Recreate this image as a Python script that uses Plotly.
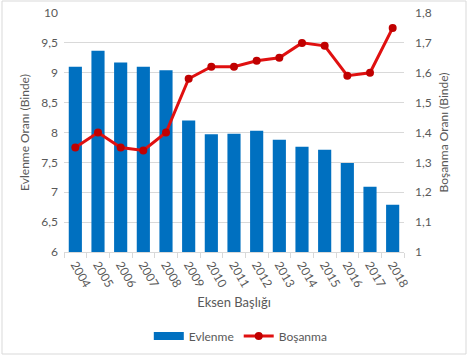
import plotly.graph_objects as go

years = ["2004", "2005", "2006", "2007", "2008", "2009", "2010", "2011",
         "2012", "2013", "2014", "2015", "2016", "2017", "2018"]
evlenme = [9.10, 9.37, 9.17, 9.10, 9.04, 8.20, 7.97, 7.98, 8.03, 7.88, 7.76, 7.71, 7.49, 7.09, 6.79]
bosanma = [1.35, 1.40, 1.35, 1.34, 1.40, 1.58, 1.62, 1.62, 1.64, 1.65, 1.70, 1.69, 1.59, 1.60, 1.75]

left_ticks = [6, 6.5, 7, 7.5, 8, 8.5, 9, 9.5, 10]
left_labels = ["6", "6,5", "7", "7,5", "8", "8,5", "9", "9,5", "10"]
right_ticks = [1, 1.1, 1.2, 1.3, 1.4, 1.5, 1.6, 1.7, 1.8]
right_labels = ["1", "1,1", "1,2", "1,3", "1,4", "1,5", "1,6", "1,7", "1,8"]

font = "Lato, Open Sans, sans-serif"
gray = "#595959"
blue = "#0070C0"

fig = go.Figure()
fig.add_trace(go.Bar(x=years, y=evlenme, name="Evlenme", marker_color=blue,
                     marker_line_width=0, showlegend=False))
fig.add_trace(go.Scatter(x=[None], y=[None], name="Evlenme", mode="lines",
                         line=dict(color=blue, width=8), showlegend=True))
fig.add_trace(go.Scatter(x=years, y=bosanma, name="Boşanma", yaxis="y2",
                         mode="lines+markers",
                         line=dict(color="#E01010", width=3),
                         marker=dict(color="#C00000", size=8)))

W, H, L, R, T, B = 468, 356, 64, 64, 13, 104
pw, ph = W - L - R, H - T - B
shapes = [dict(type="rect", xref="paper", yref="paper",
               x0=-(L - 2) / pw, x1=1 + (R - 2) / pw, y0=-(B - 2) / ph, y1=1 + (T - 1) / ph,
               line=dict(color="#D9D9D9", width=1), fillcolor="rgba(0,0,0,0)", layer="below")]

fig.update_layout(
    width=W, height=H,
    margin=dict(l=L, r=R, t=T, b=B, autoexpand=False),
    paper_bgcolor="white", plot_bgcolor="white",
    font=dict(family=font, size=12, color=gray),
    bargap=0.42,
    showlegend=True,
    legend=dict(orientation="h", x=0.52, xanchor="center", y=-(336 - (H - B)) / ph,
                yanchor="middle", itemwidth=30, font=dict(size=12, color=gray)),
    xaxis=dict(type="category", range=[-0.5, len(years) - 0.5], tickangle=60,
               showgrid=False, automargin=False,
               showline=True, linecolor="#D9D9D9", ticks="outside",
               tickson="boundaries", ticklen=5, tickcolor="#D9D9D9",
               tickfont=dict(size=12, color=gray),
               title=dict(text="Eksen Başlığı", font=dict(size=13, color=gray), standoff=8)),
    yaxis=dict(range=[6, 10], tickvals=left_ticks, ticktext=left_labels, automargin=False,
               showgrid=True, gridcolor="#D9D9D9", zeroline=False, ticklabelstandoff=5,
               tickfont=dict(size=12, color=gray),
               title=dict(text="Evlenme Oranı (Binde)", font=dict(size=12, color=gray), standoff=9)),
    yaxis2=dict(range=[1, 1.8], tickvals=right_ticks, ticktext=right_labels,
                overlaying="y", side="right", showgrid=False, zeroline=False, automargin=False,
                ticklabelstandoff=10,
                tickfont=dict(size=12, color=gray),
                title=dict(text="Boşanma Oranı (Binde)", font=dict(size=12, color=gray), standoff=8)),
    shapes=shapes,
)

fig.write_html("out.html", config={"displayModeBar": False},
               post_script="document.body.style.margin='0px';")
